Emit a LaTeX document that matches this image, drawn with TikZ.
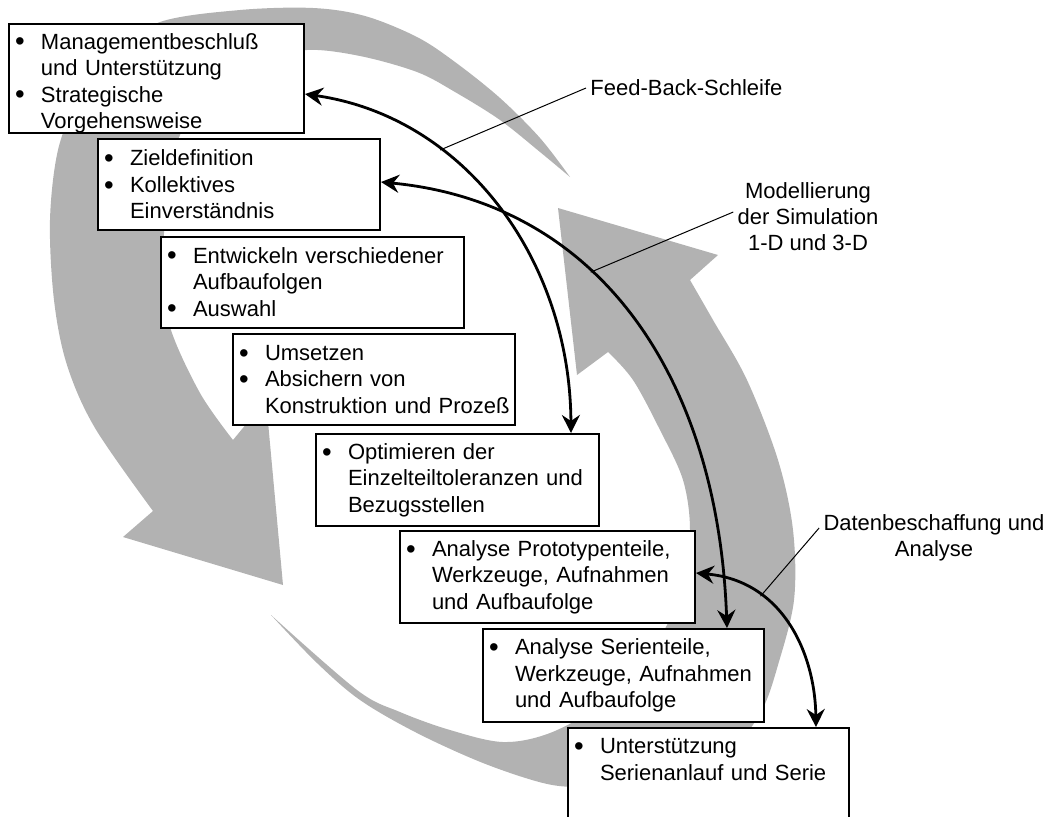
\documentclass[tikz,border=0pt]{standalone}
\usepackage{fontspec}
\usepackage{graphicx}
\setmainfont{Liberation Sans}
\usetikzlibrary{arrows.meta}

\definecolor{bandgray}{RGB}{178,178,178}

% bullet item and continuation line inside a stage box
\newcommand{\itm}{\hspace*{3pt}\makebox[13pt][l]{\raisebox{-0.9pt}{\scalebox{1.25}{•}}}}
\newcommand{\cnt}{\hspace*{16pt}}

\tikzset{
  stagebox/.style={draw=black, line width=1pt, fill=white, anchor=north west,
    inner xsep=0pt, inner ysep=0pt, align=left,
    font=\fontsize{11}{13.25}\selectfont},
  fbarrow/.style={line width=1.4pt,
    {Stealth[length=9pt,width=9pt,inset=3pt]}-{Stealth[length=9pt,width=9pt,inset=3pt]}},
  leaderline/.style={line width=0.5pt},
  note/.style={font=\fontsize{11}{13}\selectfont, inner sep=2pt, align=center}
}

\begin{document}
\begin{tikzpicture}[x=0.5pt,y=-0.5pt]
\useasboundingbox (0,0) rectangle (1049,816);
\clip (0,0) rectangle (1049,816);

% left band: tapered tail at the top, arrowhead pointing down at the lower left
\fill[bandgray]
  plot[smooth, tension=0.55] coordinates {(570,177) (540,138) (500,98) (455,62) (417,37) (365,16) (313,8) (240,10) (160,22) (110,55) (78,100) (58,150) (50,220) (54,300) (67,365) (95,428) (153,511)}
  -- (123,537) -- (283,585) -- (266,400) -- (233,440)
  -- plot[smooth, tension=0.55] coordinates {(233,440) (200,393) (170,327) (163,270) (167,200) (180,135) (215,90) (260,62) (307,50) (360,56) (417,72) (455,92) (500,120) (540,152) (570,177)}
  -- cycle;

% right band: tapered tail at the bottom, arrowhead pointing up on the right
\fill[bandgray]
  (558,208) -- (718,255) -- (690,280)
  -- plot[smooth, tension=0.55] coordinates {(690,280) (713,320) (747,380) (778,460) (793,530) (794,600) (778,665) (762,710) (735,745) (690,768) (630,784) (580,787) (543,783) (483,763) (417,733) (360,700) (317,663) (271,615)}
  -- plot[smooth, tension=0.55] coordinates {(271,615) (357,690) (400,712) (450,730) (503,742) (550,733) (600,705) (640,665) (667,625) (683,580) (690,530) (683,480) (660,430) (633,380) (608,352)}
  -- (577,375) -- cycle;

% stage boxes
\node[stagebox, minimum width=147.5pt, minimum height=54.5pt, text width=147.5pt] (b1) at (8,23)
  {\itm\rule{0pt}{12.5pt}Managementbeschluß\\ \cnt und Unterstützung\\ \itm Strategische\\ \cnt Vorgehensweise};
\node[stagebox, minimum width=141pt, minimum height=45.5pt, text width=141pt] (b2) at (97,138)
  {\itm Zieldefinition\\ \itm Kollektives\\ \cnt Einverständnis};
\node[stagebox, minimum width=151.5pt, minimum height=45.5pt, text width=151.5pt] (b3) at (160,236)
  {\itm Entwickeln verschiedener\\ \cnt Aufbaufolgen\\ \itm Auswahl};
\node[stagebox, minimum width=141pt, minimum height=45.5pt, text width=141pt] (b4) at (232,333)
  {\itm Umsetzen\\ \itm Absichern von\\ \cnt Konstruktion und Prozeß};
\node[stagebox, minimum width=141.5pt, minimum height=46pt, text width=141.5pt] (b5) at (315,433)
  {\itm Optimieren der\\ \cnt Einzelteiltoleranzen und\\ \cnt Bezugsstellen};
\node[stagebox, minimum width=147.5pt, minimum height=46pt, text width=147.5pt] (b6) at (399,530)
  {\itm Analyse Prototypenteile,\\ \cnt Werkzeuge, Aufnahmen\\ \cnt und Aufbaufolge};
\node[stagebox, minimum width=140.5pt, minimum height=46.5pt, text width=140.5pt] (b7) at (482,628)
  {\itm Analyse Serienteile,\\ \cnt Werkzeuge, Aufnahmen\\ \cnt und Aufbaufolge};
\node[stagebox, minimum width=140.5pt, minimum height=46pt, text width=140.5pt] (b8) at (567,727)
  {\itm\rule{0pt}{10pt}Unterstützung\\ \cnt Serienanlauf und Serie\\ \strut};

% feedback connectors
\draw[fbarrow] ([yshift=-7.75pt]b1.east) .. controls (465,117) and (570,260) .. ([xshift=56.75pt]b5.north)
  coordinate[pos=0.32] (fbA);
\draw[fbarrow] ([yshift=1.25pt]b2.east) .. controls (600,203) and (718,378) .. ([xshift=51.75pt]b7.north)
  coordinate[pos=0.39] (fbB);
\draw[fbarrow] ([yshift=2pt]b6.east) .. controls (784,581) and (815,655) .. ([xshift=53.75pt]b8.north)
  coordinate[pos=0.3] (fbC);

% annotations
\node[note, anchor=west] (fbl) at (586,88) {Feed-Back-Schleife};
\node[note] (mod) at (808,217) {Modellierung\\der Simulation\\1-D und 3-D};
\node[note] (dat) at (934,538) {Datenbeschaffung und\\Analyse};

\draw[leaderline] (fbl.west) -- (fbA);
\draw[leaderline] ([yshift=2.5pt]mod.west) -- (fbB);
\draw[leaderline] ([yshift=5pt]dat.west) -- (fbC);
\end{tikzpicture}
\end{document}
